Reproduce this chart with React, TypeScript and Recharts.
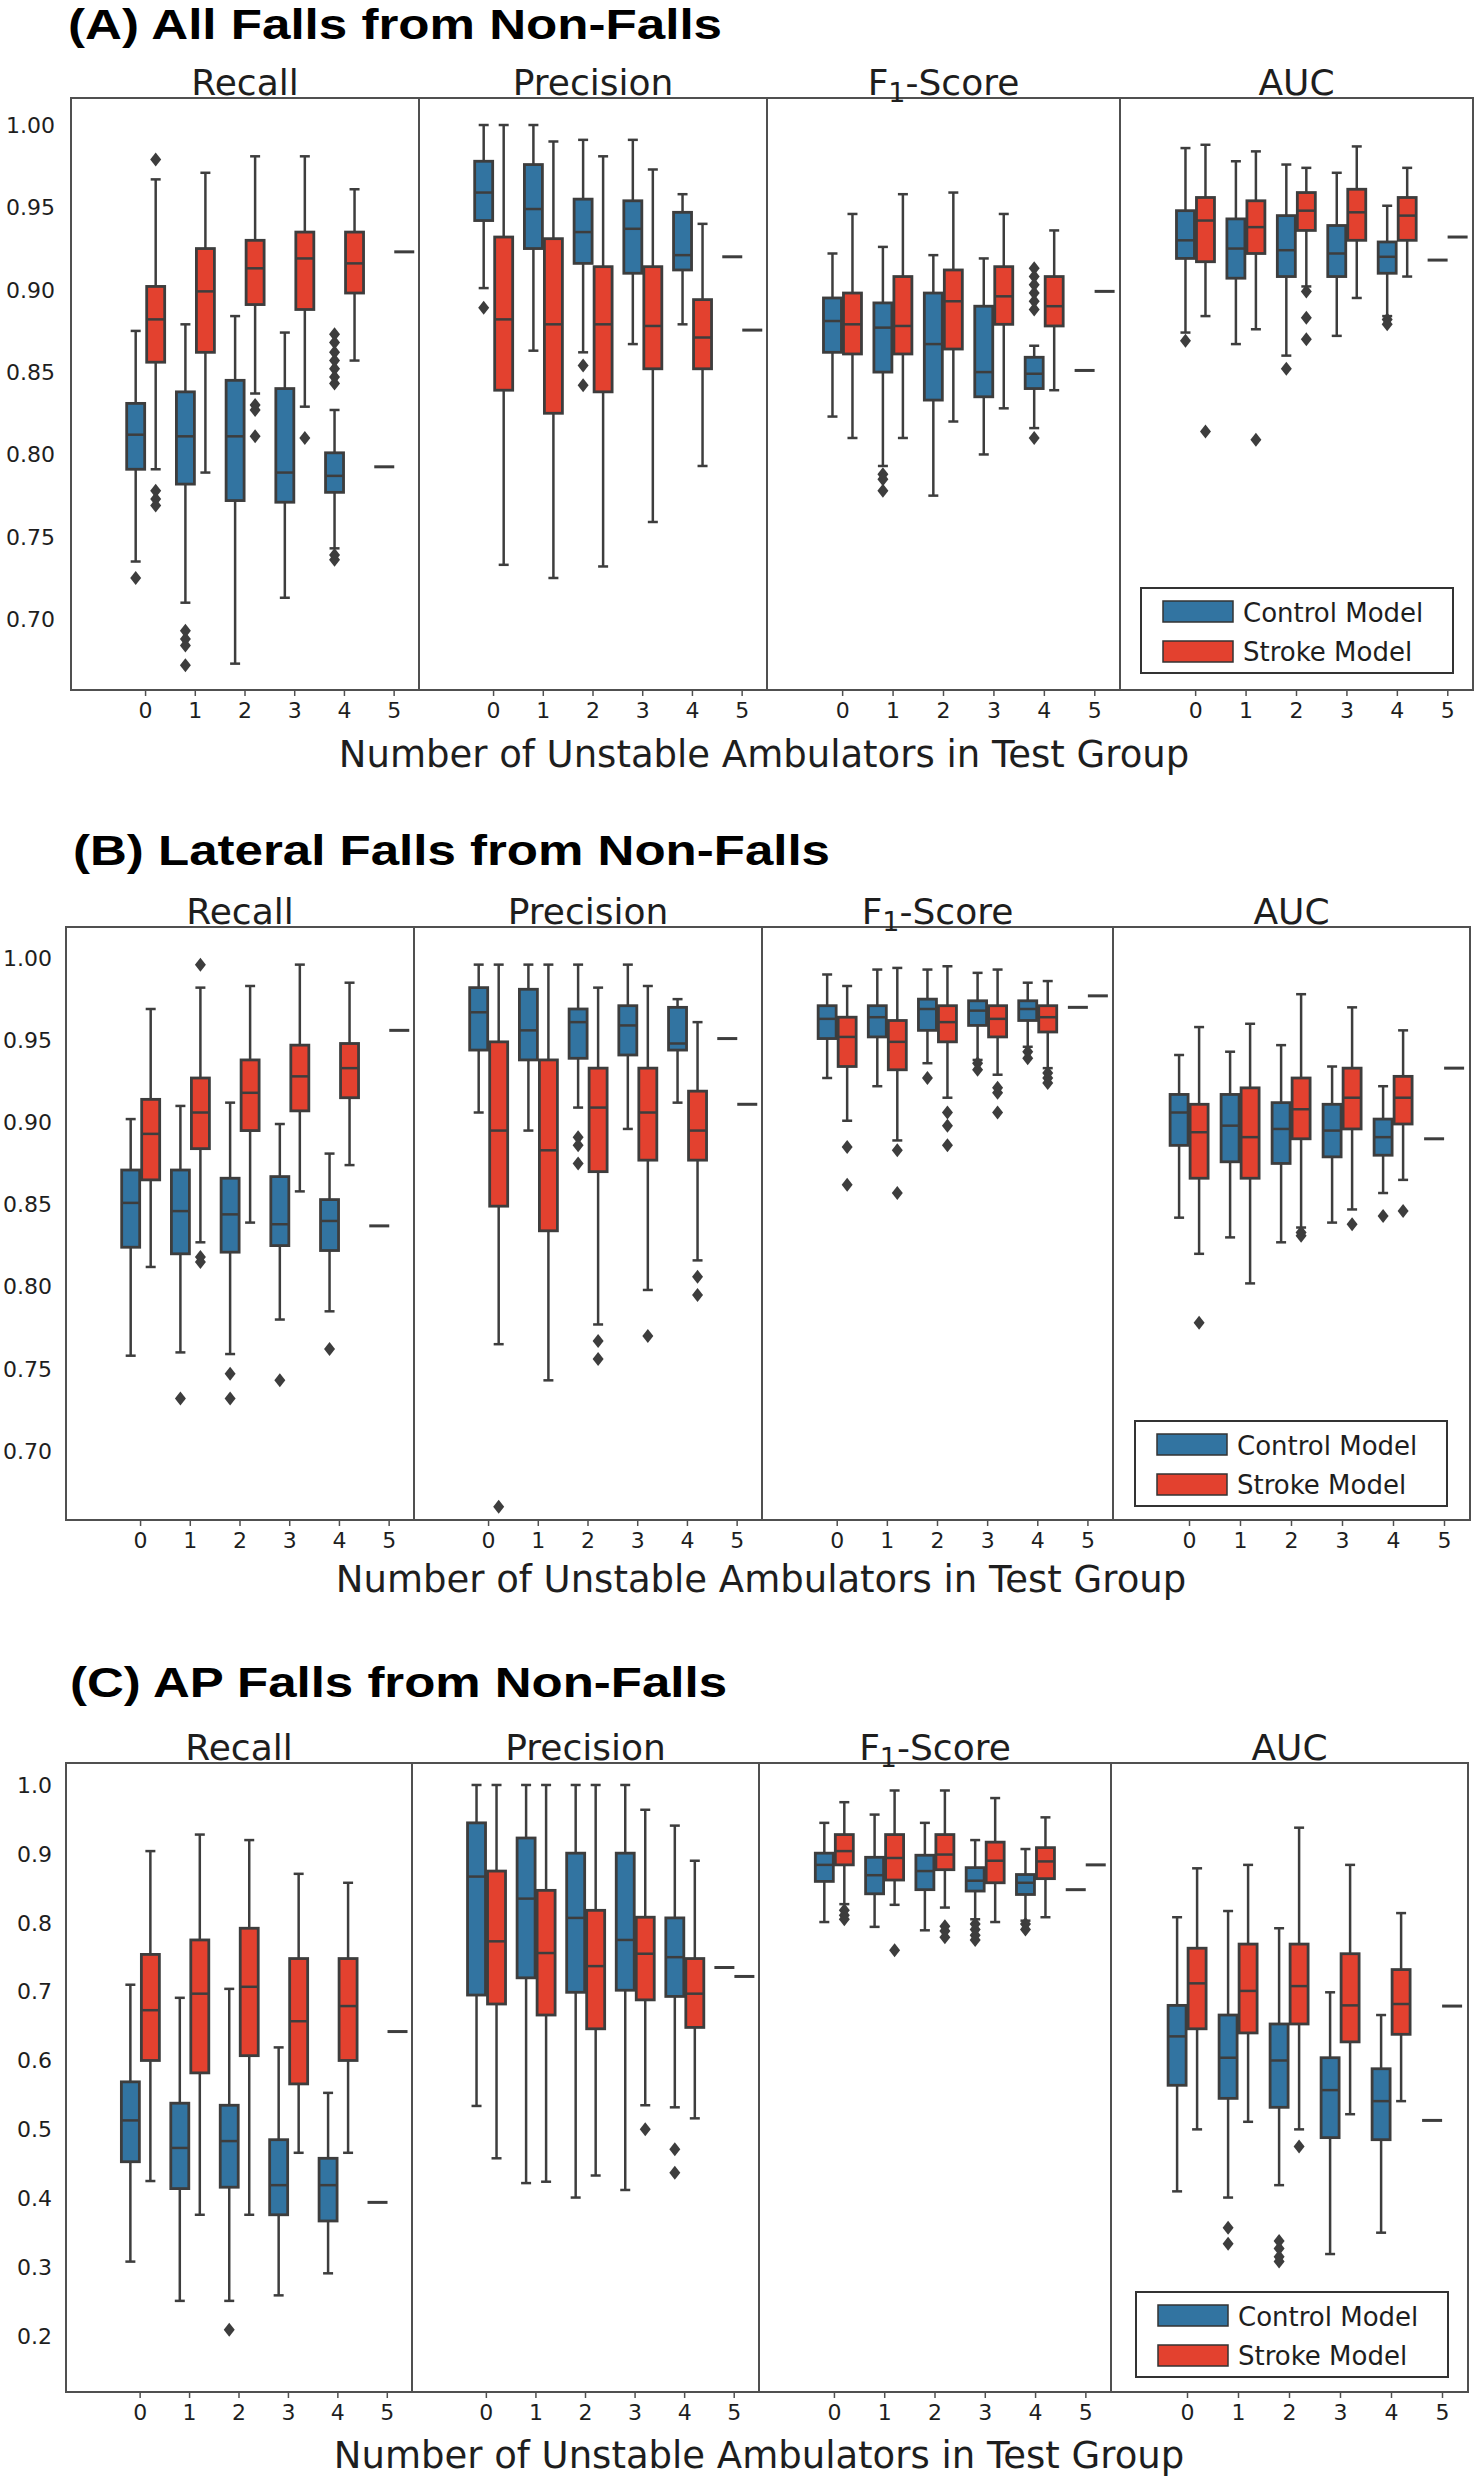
import React from 'react';
import { ComposedChart, Bar, XAxis, YAxis } from 'recharts';

// Each box: [low whisker, q1, median, q3, high whisker, ...outliers]; a single value = [v]
type Box = number[];

const GROUPS = ['0', '1', '2', '3', '4', '5'];
const METRICS = ['Recall', 'Precision', 'F1', 'AUC'];
const MODELS = ['Control Model', 'Stroke Model'];

const TICKS_AB = [0.7, 0.75, 0.8, 0.85, 0.9, 0.95, 1.0];
const TICKS_C = [0.2, 0.3, 0.4, 0.5, 0.6, 0.7, 0.8, 0.9, 1.0];

// (A) All falls
const aRecallControl: Box[] = [
  [0.735, 0.791, 0.812, 0.831, 0.875, 0.725],
  [0.71, 0.782, 0.811, 0.838, 0.879, 0.693, 0.688, 0.684, 0.672],
  [0.673, 0.772, 0.811, 0.845, 0.884],
  [0.713, 0.771, 0.789, 0.84, 0.874],
  [0.743, 0.777, 0.787, 0.801, 0.827, 0.873, 0.868, 0.862, 0.857, 0.852, 0.847, 0.843, 0.739, 0.736],
  [0.7925],
];
const aRecallStroke: Box[] = [
  [0.791, 0.856, 0.882, 0.902, 0.967, 0.979, 0.778, 0.773, 0.769],
  [0.789, 0.862, 0.899, 0.925, 0.971],
  [0.837, 0.891, 0.913, 0.93, 0.981, 0.83, 0.827, 0.811],
  [0.829, 0.888, 0.919, 0.935, 0.981, 0.81],
  [0.857, 0.898, 0.916, 0.935, 0.961],
  [0.923],
];
const aPrecisionControl: Box[] = [
  [0.901, 0.942, 0.959, 0.978, 1.0, 0.889],
  [0.863, 0.925, 0.949, 0.976, 1.0],
  [0.862, 0.916, 0.935, 0.955, 0.991, 0.854, 0.842],
  [0.867, 0.91, 0.937, 0.954, 0.991],
  [0.879, 0.912, 0.921, 0.947, 0.958],
  [0.92],
];
const aPrecisionStroke: Box[] = [
  [0.733, 0.839, 0.882, 0.932, 1.0],
  [0.725, 0.825, 0.879, 0.931, 0.99],
  [0.732, 0.838, 0.879, 0.914, 0.981],
  [0.759, 0.852, 0.878, 0.914, 0.973],
  [0.793, 0.852, 0.871, 0.894, 0.94],
  [0.8755],
];
const aF1Control: Box[] = [
  [0.823, 0.862, 0.881, 0.895, 0.922],
  [0.793, 0.85, 0.877, 0.892, 0.926, 0.788, 0.785, 0.778],
  [0.775, 0.833, 0.867, 0.898, 0.921],
  [0.8, 0.835, 0.85, 0.89, 0.919],
  [0.816, 0.84, 0.849, 0.859, 0.866, 0.913, 0.908, 0.903, 0.898, 0.893, 0.888, 0.81],
  [0.851],
];
const aF1Stroke: Box[] = [
  [0.81, 0.861, 0.879, 0.898, 0.946],
  [0.81, 0.861, 0.878, 0.908, 0.958],
  [0.82, 0.864, 0.893, 0.912, 0.959],
  [0.828, 0.879, 0.896, 0.914, 0.946],
  [0.839, 0.878, 0.89, 0.908, 0.936],
  [0.899],
];
const aAucControl: Box[] = [
  [0.874, 0.919, 0.93, 0.948, 0.986, 0.869],
  [0.867, 0.907, 0.925, 0.943, 0.978],
  [0.86, 0.908, 0.924, 0.945, 0.976, 0.852],
  [0.872, 0.908, 0.922, 0.939, 0.971],
  [0.884, 0.91, 0.92, 0.929, 0.951, 0.882, 0.879],
  [0.918],
];
const aAucStroke: Box[] = [
  [0.884, 0.917, 0.942, 0.956, 0.988, 0.814],
  [0.876, 0.922, 0.938, 0.954, 0.984, 0.809],
  [0.902, 0.936, 0.948, 0.959, 0.974, 0.899, 0.883, 0.87],
  [0.895, 0.93, 0.947, 0.961, 0.987],
  [0.908, 0.93, 0.945, 0.956, 0.974],
  [0.932],
];

// (B) Lateral falls
const bRecallControl: Box[] = [
  [0.758, 0.824, 0.851, 0.871, 0.902],
  [0.76, 0.82, 0.846, 0.871, 0.91, 0.732],
  [0.759, 0.821, 0.844, 0.866, 0.912, 0.747, 0.732],
  [0.78, 0.825, 0.838, 0.867, 0.899, 0.743],
  [0.785, 0.822, 0.84, 0.853, 0.881, 0.762],
  [0.837],
];
const bRecallStroke: Box[] = [
  [0.812, 0.865, 0.893, 0.914, 0.969],
  [0.827, 0.884, 0.906, 0.927, 0.982, 0.996, 0.818, 0.815],
  [0.839, 0.895, 0.918, 0.938, 0.983],
  [0.858, 0.907, 0.928, 0.947, 0.996],
  [0.874, 0.915, 0.933, 0.948, 0.985],
  [0.956],
];
const bPrecisionControl: Box[] = [
  [0.906, 0.944, 0.967, 0.982, 0.996],
  [0.895, 0.938, 0.956, 0.981, 0.996],
  [0.909, 0.939, 0.961, 0.969, 0.996, 0.891, 0.886, 0.875],
  [0.896, 0.941, 0.959, 0.971, 0.996],
  [0.912, 0.944, 0.948, 0.97, 0.975],
  [0.951],
];
const bPrecisionStroke: Box[] = [
  [0.765, 0.849, 0.895, 0.949, 0.996, 0.666],
  [0.743, 0.834, 0.883, 0.938, 0.996],
  [0.777, 0.87, 0.909, 0.933, 0.982, 0.767, 0.756],
  [0.798, 0.877, 0.906, 0.933, 0.983, 0.77],
  [0.816, 0.877, 0.895, 0.919, 0.961, 0.806, 0.795],
  [0.911],
];
const bF1Control: Box[] = [
  [0.927, 0.951, 0.963, 0.971, 0.99],
  [0.922, 0.952, 0.964, 0.971, 0.993],
  [0.936, 0.956, 0.969, 0.975, 0.993, 0.927],
  [0.938, 0.959, 0.968, 0.974, 0.991, 0.936, 0.932],
  [0.946, 0.962, 0.969, 0.974, 0.985, 0.943, 0.939],
  [0.97],
];
const bF1Stroke: Box[] = [
  [0.901, 0.934, 0.952, 0.964, 0.983, 0.885, 0.862],
  [0.889, 0.932, 0.949, 0.962, 0.994, 0.883, 0.857],
  [0.915, 0.949, 0.961, 0.971, 0.995, 0.906, 0.898, 0.886],
  [0.929, 0.952, 0.963, 0.971, 0.993, 0.921, 0.918, 0.906],
  [0.933, 0.955, 0.964, 0.971, 0.986, 0.93, 0.927, 0.924],
  [0.977],
];
const bAucControl: Box[] = [
  [0.842, 0.886, 0.906, 0.917, 0.941],
  [0.83, 0.876, 0.898, 0.917, 0.943],
  [0.827, 0.875, 0.896, 0.912, 0.947],
  [0.839, 0.879, 0.895, 0.911, 0.934],
  [0.857, 0.88, 0.891, 0.902, 0.922, 0.843],
  [0.89],
];
const bAucStroke: Box[] = [
  [0.82, 0.866, 0.894, 0.911, 0.958, 0.778],
  [0.802, 0.866, 0.891, 0.921, 0.96],
  [0.836, 0.89, 0.908, 0.927, 0.978, 0.833, 0.831],
  [0.847, 0.896, 0.915, 0.933, 0.97, 0.838],
  [0.865, 0.899, 0.915, 0.928, 0.956, 0.846],
  [0.933],
];

// (C) AP falls
const cRecallControl: Box[] = [
  [0.308, 0.453, 0.513, 0.569, 0.71],
  [0.251, 0.414, 0.473, 0.538, 0.691],
  [0.251, 0.416, 0.483, 0.535, 0.704, 0.209],
  [0.259, 0.376, 0.419, 0.485, 0.619],
  [0.291, 0.367, 0.419, 0.458, 0.553],
  [0.394],
];
const cRecallStroke: Box[] = [
  [0.425, 0.6, 0.673, 0.754, 0.904],
  [0.376, 0.582, 0.697, 0.775, 0.928],
  [0.376, 0.607, 0.707, 0.792, 0.92],
  [0.466, 0.566, 0.657, 0.748, 0.871],
  [0.466, 0.6, 0.679, 0.748, 0.858],
  [0.642],
];
const cPrecisionControl: Box[] = [
  [0.534, 0.695, 0.867, 0.945, 1.0],
  [0.422, 0.72, 0.835, 0.923, 1.0],
  [0.401, 0.699, 0.807, 0.901, 1.0],
  [0.412, 0.702, 0.775, 0.901, 1.0],
  [0.532, 0.693, 0.75, 0.807, 0.941, 0.471, 0.437],
  [0.735],
];
const cPrecisionStroke: Box[] = [
  [0.458, 0.682, 0.773, 0.875, 1.0],
  [0.424, 0.666, 0.756, 0.847, 1.0],
  [0.433, 0.646, 0.737, 0.818, 1.0],
  [0.535, 0.688, 0.755, 0.808, 0.964, 0.5],
  [0.516, 0.648, 0.697, 0.748, 0.89],
  [0.722],
];
const cF1Control: Box[] = [
  [0.801, 0.86, 0.884, 0.901, 0.945],
  [0.794, 0.842, 0.869, 0.895, 0.957],
  [0.789, 0.848, 0.875, 0.898, 0.945],
  [0.805, 0.846, 0.861, 0.88, 0.92, 0.798, 0.79, 0.782, 0.775],
  [0.803, 0.841, 0.858, 0.87, 0.907, 0.798, 0.79],
  [0.848],
];
const cF1Stroke: Box[] = [
  [0.827, 0.884, 0.904, 0.928, 0.975, 0.818, 0.811, 0.805],
  [0.826, 0.862, 0.894, 0.928, 0.992, 0.76],
  [0.822, 0.877, 0.899, 0.928, 0.992, 0.795, 0.788, 0.779],
  [0.801, 0.858, 0.89, 0.917, 0.981],
  [0.808, 0.864, 0.889, 0.909, 0.953],
  [0.884],
];
const cAucControl: Box[] = [
  [0.41, 0.564, 0.635, 0.68, 0.808],
  [0.401, 0.545, 0.604, 0.666, 0.817, 0.357, 0.334],
  [0.419, 0.532, 0.6, 0.653, 0.792, 0.338, 0.327, 0.315, 0.308],
  [0.319, 0.488, 0.557, 0.604, 0.699],
  [0.35, 0.485, 0.541, 0.588, 0.666],
  [0.513],
];
const cAucStroke: Box[] = [
  [0.5, 0.646, 0.712, 0.763, 0.879],
  [0.511, 0.64, 0.701, 0.769, 0.884],
  [0.5, 0.653, 0.708, 0.769, 0.938, 0.475],
  [0.522, 0.627, 0.68, 0.755, 0.884],
  [0.541, 0.638, 0.682, 0.732, 0.814],
  [0.679],
];

const BLUE = '#3274a1';
const RED = '#e3412f';
const EDGE = '#3d3d3d';
const FRAME = '#505050';
const TEXT = '#1e1e1e';
const FONT = 'DejaVu Sans';

const PANELS = [
  {
    title: '(A) All Falls from Non-Falls', titleX: 68, titleBase: 39, titleW: 654,
    top: 98, bottom: 690, xs: [71, 419, 767, 1120, 1473],
    domain: [0.657, 1.0164], ticks: TICKS_AB, digits: 2, labelGap: 16,
    xlabelX: 764, xlabelBase: 767, legend: [1141, 588],
    series: [[aRecallControl, aRecallStroke], [aPrecisionControl, aPrecisionStroke], [aF1Control, aF1Stroke], [aAucControl, aAucStroke]],
  },
  {
    title: '(B) Lateral Falls from Non-Falls', titleX: 73, titleBase: 865, titleW: 757,
    top: 927, bottom: 1520, xs: [66, 414, 762, 1113, 1470],
    domain: [0.658, 1.0189], ticks: TICKS_AB, digits: 2, labelGap: 14,
    xlabelX: 761, xlabelBase: 1592, legend: [1135, 1421],
    series: [[bRecallControl, bRecallStroke], [bPrecisionControl, bPrecisionStroke], [bF1Control, bF1Stroke], [bAucControl, bAucStroke]],
  },
  {
    title: '(C) AP Falls from Non-Falls', titleX: 70, titleBase: 1697, titleW: 657,
    top: 1763, bottom: 2392, xs: [66, 412, 759, 1111, 1468],
    domain: [0.1187, 1.0319], ticks: TICKS_C, digits: 1, labelGap: 14,
    xlabelX: 759, xlabelBase: 2468, legend: [1136, 2292],
    series: [[cRecallControl, cRecallStroke], [cPrecisionControl, cPrecisionStroke], [cF1Control, cF1Stroke], [cAucControl, cAucStroke]],
  },
];

const AXIS_H = 50;

function stats(b: Box) {
  if (b.length === 1) return { lo: b[0], q1: b[0], med: b[0], q3: b[0], hi: b[0], out: [] as number[] };
  return { lo: b[0], q1: b[1], med: b[2], q3: b[3], hi: b[4], out: b.slice(5) };
}

function extent(b: Box) {
  const s = stats(b);
  const vals = [s.lo, s.hi, ...s.out];
  return [Math.min(...vals), Math.max(...vals)];
}

const rangeOf = (key: string) => (row: any) => (row[key] ? extent(row[key]) : null);

// draws the whole box plot from the bar's [min, max] rectangle given by the y scale
const boxShape = (key: string, color: string) => (props: any) => {
  const { x, y, width, height, payload } = props;
  const b: Box | undefined = payload?.[key];
  if (!b || !Number.isFinite(y) || !Number.isFinite(height)) return <g />;
  const s = stats(b);
  const [vMin, vMax] = extent(b);
  const top = Math.min(y, y + height);
  const bot = Math.max(y, y + height);
  const py = (v: number) => (vMax === vMin ? bot : top + ((vMax - v) / (vMax - vMin)) * (bot - top));
  const cx = x + width / 2;
  const capW = width * 0.5;
  if (s.lo === s.hi) {
    return <line x1={x} x2={x + width} y1={py(s.med)} y2={py(s.med)} stroke={EDGE} strokeWidth={3} />;
  }
  return (
    <g>
      <line x1={cx} x2={cx} y1={py(s.hi)} y2={py(s.q3)} stroke={EDGE} strokeWidth={2.5} />
      <line x1={cx} x2={cx} y1={py(s.q1)} y2={py(s.lo)} stroke={EDGE} strokeWidth={2.5} />
      <line x1={cx - capW / 2} x2={cx + capW / 2} y1={py(s.hi)} y2={py(s.hi)} stroke={EDGE} strokeWidth={2.5} />
      <line x1={cx - capW / 2} x2={cx + capW / 2} y1={py(s.lo)} y2={py(s.lo)} stroke={EDGE} strokeWidth={2.5} />
      <rect x={x + 1} y={py(s.q3)} width={width - 2} height={py(s.q1) - py(s.q3)} fill={color} stroke={EDGE} strokeWidth={2.8} />
      <line x1={x + 1} x2={x + width - 1} y1={py(s.med)} y2={py(s.med)} stroke={EDGE} strokeWidth={2.5} />
      {s.out.map((o, i) => (
        <path key={i} d={`M${cx},${py(o) - 7}L${cx + 5.5},${py(o)}L${cx},${py(o) + 7}L${cx - 5.5},${py(o)}Z`} fill={EDGE} />
      ))}
    </g>
  );
};

function GroupTick(props: any) {
  const { x, y, payload } = props;
  if (!payload || payload.value === '') return <g />;
  return (
    <g>
      <line x1={x} x2={x} y1={y - 12} y2={y - 6} stroke={FRAME} strokeWidth={1.5} />
      <text x={x} y={y} dy="0.71em" textAnchor="middle" fontSize={22} fontFamily={FONT} fill={TEXT}>
        {payload.value}
      </text>
    </g>
  );
}

function Subplot({ panel, idx }: { panel: any; idx: number }) {
  const [control, stroke] = panel.series[idx];
  const left = idx === 0 ? 0 : panel.xs[idx];
  const width = idx === 0 ? panel.xs[1] : panel.xs[idx + 1] - panel.xs[idx];
  const height = panel.bottom - panel.top + AXIS_H;
  const data = [{ g: '' }, ...GROUPS.map((g, i) => ({ g, control: control[i], stroke: stroke[i] }))];
  return (
    <div style={{ position: 'absolute', left, top: panel.top, width, height }}>
      <ComposedChart width={width} height={height} data={data} margin={{ top: 0, right: 0, bottom: 0, left: 0 }} barCategoryGap="10%" barGap={0}>
        <XAxis dataKey="g" type="category" interval={0} height={AXIS_H} axisLine={false} tickLine={false} tickSize={6} tickMargin={6} tick={(p: any) => <GroupTick {...p} />} />
        <YAxis
          type="number"
          domain={panel.domain}
          ticks={panel.ticks}
          allowDataOverflow
          hide={idx !== 0}
          width={idx === 0 ? panel.xs[0] : 0}
          axisLine={false}
          tickLine={false}
          tickSize={0}
          tickMargin={panel.labelGap}
          tickFormatter={(v: number) => v.toFixed(panel.digits)}
          tick={{ fontSize: 22, fill: TEXT, fontFamily: FONT }}
        />
        <Bar dataKey={rangeOf('control')} name={MODELS[0]} shape={boxShape('control', BLUE)} isAnimationActive={false} />
        <Bar dataKey={rangeOf('stroke')} name={MODELS[1]} shape={boxShape('stroke', RED)} isAnimationActive={false} />
      </ComposedChart>
    </div>
  );
}

function SubplotTitle({ name, cx, base }: { name: string; cx: number; base: number }) {
  if (name === 'F1') {
    return (
      <text x={cx} y={base} textAnchor="middle" fontSize={36} fontFamily={FONT} fill={TEXT}>
        F<tspan fontSize={27} dy={7}>1</tspan>
        <tspan dy={-7}>-Score</tspan>
      </text>
    );
  }
  return (
    <text x={cx} y={base} textAnchor="middle" fontSize={36} fontFamily={FONT} fill={TEXT}>
      {name}
    </text>
  );
}

function PanelOverlay({ panel }: { panel: any }) {
  const [lx, ly] = panel.legend;
  return (
    <g>
      <text x={panel.titleX} y={panel.titleBase} fontSize={43} fontWeight="bold" fontFamily="Liberation Sans" fill="#000" textLength={panel.titleW} lengthAdjust="spacingAndGlyphs">
        {panel.title}
      </text>
      {METRICS.map((m, i) => (
        <g key={m}>
          <rect x={panel.xs[i]} y={panel.top} width={panel.xs[i + 1] - panel.xs[i]} height={panel.bottom - panel.top} fill="none" stroke={FRAME} strokeWidth={2} />
          <SubplotTitle name={m} cx={(panel.xs[i] + panel.xs[i + 1]) / 2} base={panel.top - 3} />
        </g>
      ))}
      <text x={panel.xlabelX} y={panel.xlabelBase} textAnchor="middle" fontSize={37} fontFamily={FONT} fill={TEXT}>
        Number of Unstable Ambulators in Test Group
      </text>
      <rect x={lx} y={ly} width={312} height={85} fill="#fff" stroke="#333" strokeWidth={2} />
      {MODELS.map((m, i) => (
        <g key={m}>
          <rect x={lx + 22} y={ly + 13 + i * 40} width={70} height={21} fill={i === 0 ? BLUE : RED} stroke="#333" strokeWidth={1.5} />
          <text x={lx + 102} y={ly + 34 + i * 39} fontSize={26} fontFamily={FONT} fill={TEXT}>
            {m}
          </text>
        </g>
      ))}
    </g>
  );
}

export default function App() {
  return (
    <div style={{ position: 'absolute', left: 0, top: 0, width: 1476, height: 2479, overflow: 'hidden', background: '#fff' }}>
      {PANELS.map((p, pi) => (
        <React.Fragment key={pi}>
          {METRICS.map((m, i) => (
            <Subplot key={m} panel={p} idx={i} />
          ))}
        </React.Fragment>
      ))}
      <svg width={1476} height={2479} style={{ position: 'absolute', left: 0, top: 0, pointerEvents: 'none' }}>
        {PANELS.map((p, pi) => (
          <PanelOverlay key={pi} panel={p} />
        ))}
      </svg>
    </div>
  );
}
